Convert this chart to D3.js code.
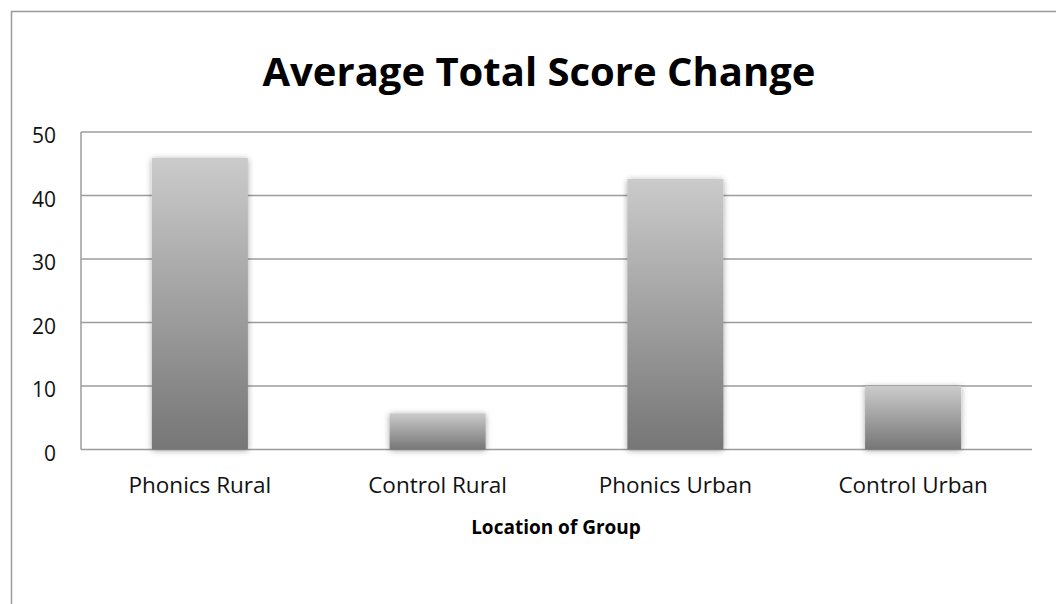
<!DOCTYPE html>
<html>
<head>
<meta charset="utf-8">
<script src="https://d3js.org/d3.v7.min.js"></script>
<style>
  body { margin: 0; background: #fff; }
  svg { display: block; font-family: "Open Sans", "Noto Sans", sans-serif; }
</style>
</head>
<body>
<div id="chart"></div>
<script>
// chart data
var groups = ["Phonics Rural", "Control Rural", "Phonics Urban", "Control Urban"];
var scores = [45.9, 5.7, 42.6, 10.0];
var yTicks = [0, 10, 20, 30, 40, 50];

var width = 1056, height = 604;
var margin = {top: 132, right: 24, bottom: 155, left: 81};

var svg = d3.select("#chart").append("svg")
    .attr("width", width)
    .attr("height", height);

// outer chart border
svg.append("rect")
    .attr("x", 11.5).attr("y", 11.5)
    .attr("width", width + 20).attr("height", height + 20)
    .attr("fill", "none")
    .attr("stroke", "#9a9a9a")
    .attr("stroke-width", 1.5);

var defs = svg.append("defs");

//Gradient for the bars, light at top, dark at bottom
var grad = defs.append("linearGradient")
    .attr("id", "barGrad")
    .attr("x1", 0).attr("y1", 0).attr("x2", 0).attr("y2", 1);
grad.append("stop").attr("offset", "0%").attr("stop-color", "#cbcbcb");
grad.append("stop").attr("offset", "100%").attr("stop-color", "#767676");

//Soft shadow round the bars
var shadow = defs.append("filter")
    .attr("id", "shadow")
    .attr("x", "-20%").attr("y", "-20%")
    .attr("width", "140%").attr("height", "140%");
shadow.append("feGaussianBlur").attr("in", "SourceAlpha").attr("stdDeviation", 3).attr("result", "blur");
shadow.append("feOffset").attr("dx", 0).attr("dy", 1).attr("result", "off");
shadow.append("feComponentTransfer").append("feFuncA").attr("type", "linear").attr("slope", 0.35);
var merge = shadow.append("feMerge");
merge.append("feMergeNode");
merge.append("feMergeNode").attr("in", "SourceGraphic");

var x = d3.scaleBand()
    .domain(groups)
    .range([margin.left, 1032])
    .paddingInner(0.596)
    .paddingOuter(0.298);

var y = d3.scaleLinear()
    .domain([0, 50])
    .range([449.5, margin.top]);

// gridlines
svg.append("g")
    .selectAll("line")
    .data(yTicks)
    .enter().append("line")
    .attr("x1", margin.left).attr("x2", 1032)
    .attr("y1", function(d) { return y(d); })
    .attr("y2", function(d) { return y(d); })
    .attr("stroke", "#9c9c9c")
    .attr("stroke-width", 1.5);

// y axis line
svg.append("line")
    .attr("x1", margin.left).attr("x2", margin.left)
    .attr("y1", y(50)).attr("y2", y(0))
    .attr("stroke", "#9c9c9c")
    .attr("stroke-width", 1.5);

// y tick labels
svg.append("g")
    .selectAll("text")
    .data(yTicks)
    .enter().append("text")
    .attr("x", 56)
    .attr("y", function(d) { return y(d) + 11; })
    .attr("text-anchor", "end")
    .style("font-size", "21px")
    .attr("fill", "#111")
    .text(function(d) { return d; });

// bars
svg.append("g")
    .selectAll("rect")
    .data(scores)
    .enter().append("rect")
    .attr("x", function(d, i) { return x(groups[i]); })
    .attr("width", x.bandwidth())
    .attr("y", function(d) { return y(d); })
    .attr("height", function(d) { return y(0) - y(d); })
    .attr("fill", "url(#barGrad)")
    .attr("filter", "url(#shadow)");

// x labels
svg.append("g")
    .selectAll("text")
    .data(groups)
    .enter().append("text")
    .attr("x", function(d) { return x(d) + x.bandwidth() / 2; })
    .attr("y", 493)
    .attr("text-anchor", "middle")
    .style("font-size", "22.5px")
    .attr("fill", "#111")
    .text(function(d) { return d; });

// title
svg.append("text")
    .attr("x", 539)
    .attr("y", 86)
    .attr("text-anchor", "middle")
    .style("font-size", "40px")
    .style("font-weight", "bold")
    .attr("fill", "#000")
    .text("Average Total Score Change");

// x axis title
svg.append("text")
    .attr("x", 556)
    .attr("y", 534)
    .attr("text-anchor", "middle")
    .style("font-size", "19px")
    .style("font-weight", "bold")
    .attr("fill", "#000")
    .text("Location of Group");
</script>
</body>
</html>
